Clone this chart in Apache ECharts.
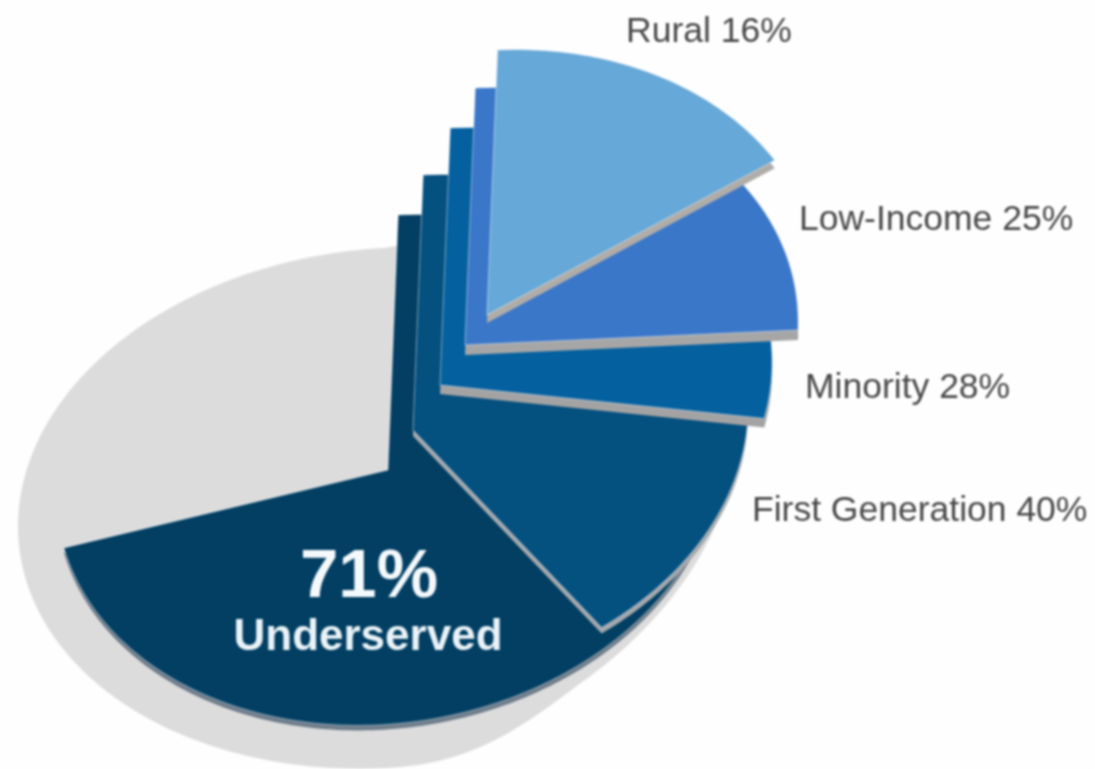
<!DOCTYPE html>
<html lang="en" style="height: 100%">
<head>
    <meta charset="utf-8">
    <script src="https://cdn.jsdelivr.net/npm/echarts@6/dist/echarts.min.js"></script>
    <style>
        html, body { margin: 0; height: 100%; background: #fff; }
        #container { width: 1095px; height: 769px; filter: blur(0.9px); }
    </style>
</head>
<body>
<div id="container"></div>
<script type="text/javascript">
    var categories = ['Underserved', 'First Generation', 'Minority', 'Low-Income', 'Rural'];
    var shares = [71, 40, 28, 25, 16];

    // drawing only: apex and radii of each exploded wedge
    var apexX = [388, 413, 440, 465, 487];
    var apexY = [470, 430, 385, 345, 315];
    var radiusX = [332, 335, 332, 333, 334];
    var radiusY = [255, 255, 257, 257, 265];
    var colors = ['#023f63', '#04507f', '#05609f', '#3a77c9', '#66a8d8'];
    var edgeColors = ['#6f7d8b', '#a4a8ac', '#a3a3a3', '#a6a6a6', '#b0aca8'];
    var edgeDrop = [5, 6, 9, 10, 8];
    var labelX = [0, 752, 805, 799, 626];
    var labelY = [0, 511, 388, 220, 32];

    var tiltX = 0.04, tiltY = 0.045;

    // a wedge on the tilted ellipse, clockwise from 12 o'clock
    function wedge(cx, cy, rx, ry, pct) {
        var pts = [[cx, cy]];
        var end = pct * 3.6;
        for (var d = 0; d <= end; d += 1) {
            var t = d * Math.PI / 180;
            var sx = rx * Math.sin(t), up = ry * Math.cos(t);
            pts.push([cx + sx + tiltX * up, cy - up - tiltY * sx]);
        }
        var last = end * Math.PI / 180;
        var lx = rx * Math.sin(last), lu = ry * Math.cos(last);
        pts.push([cx + lx + tiltX * lu, cy - lu - tiltY * lx]);
        return pts;
    }

    // grey plate behind the wedges: its lower right is pinched in
    function plateOutline() {
        var pts = [];
        for (var d = 0; d < 360; d += 1) {
            var t = d * Math.PI / 180;
            var right = d < 180;
            var sx = (right ? 350 : 367) * Math.sin(t), up = 260 * Math.cos(t);
            var s = Math.min(1, (180 - d) / 35);
            var pinch = right ? 55 * Math.sin(t) * s * s * (3 - 2 * s) : 0;
            pts.push([385 + sx, 508 - up - 0.05 * sx - pinch]);
        }
        return pts;
    }

    function renderBase() {
        return {
            type: 'polygon',
            shape: {points: plateOutline()},
            style: {fill: '#dcdcdc'}
        };
    }

    function renderSlice(params, api) {
        var i = params.dataIndex;
        var pct = api.value(0);
        var x = apexX[i], y = apexY[i];
        var children = [
            {
                type: 'polygon',
                shape: {points: wedge(x, y + edgeDrop[i], radiusX[i], radiusY[i], pct)},
                style: {fill: edgeColors[i]}
            },
            {
                type: 'polygon',
                shape: {points: wedge(x, y, radiusX[i], radiusY[i], pct)},
                style: {fill: colors[i], stroke: 'rgba(255,255,255,0.45)', lineWidth: 1}
            }
        ];
        if (i === 0) {
            children.push({
                type: 'text',
                style: {text: pct + '%', x: 369, y: 578, align: 'center', verticalAlign: 'middle',
                    fill: '#f4f9fb', font: 'bold 69px "Liberation Sans", Arial, sans-serif'}
            });
            children.push({
                type: 'text',
                style: {text: categories[i], x: 368, y: 638, align: 'center', verticalAlign: 'middle',
                    fill: '#eaf3f7', font: 'bold 44px "Liberation Sans", Arial, sans-serif'}
            });
        } else {
            children.push({
                type: 'text',
                style: {text: categories[i] + ' ' + pct + '%', x: labelX[i], y: labelY[i],
                    align: 'left', verticalAlign: 'middle',
                    fill: '#484848', font: '35.5px "Liberation Sans", Arial, sans-serif'}
            });
        }
        return {type: 'group', children: children};
    }

    var myChart = echarts.init(document.getElementById('container'));
    var option = {
        animation: false,
        backgroundColor: '#fefefe',
        series: [
            {type: 'custom', coordinateSystem: 'none', silent: true, z: 1, renderItem: renderBase, data: [[100]]},
            {type: 'custom', coordinateSystem: 'none', silent: true, z: 2, renderItem: renderSlice,
                data: shares.map(function (v) { return [v]; })}
        ]
    };
    myChart.setOption(option);
</script>
</body>
</html>
